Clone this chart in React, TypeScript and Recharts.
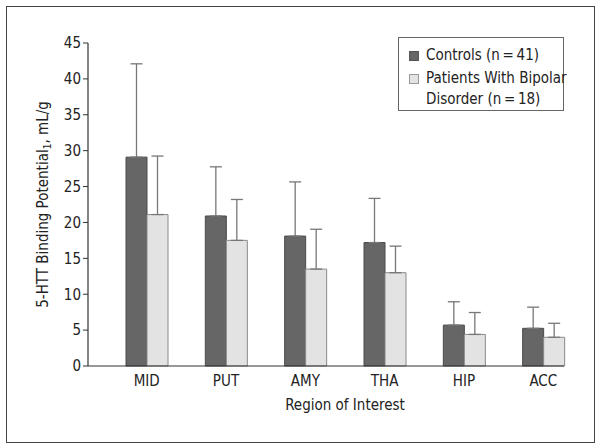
import React from "react";
import { BarChart, Bar, XAxis, YAxis, ErrorBar } from "recharts";

const regions = ["MID", "PUT", "AMY", "THA", "HIP", "ACC"];
const controlMeans = [29.1, 20.9, 18.1, 17.2, 5.7, 5.25];
const controlSD = [13.0, 6.85, 7.55, 6.15, 3.25, 2.95];
const bipolarMeans = [21.1, 17.5, 13.5, 13.0, 4.4, 4.0];
const bipolarSD = [8.15, 5.7, 5.55, 3.7, 3.05, 1.95];
const yTicks = [0, 5, 10, 15, 20, 25, 30, 35, 40, 45];

const FONT = "'Liberation Sans Narrow', 'DejaVu Sans Condensed', Arial, sans-serif";
const FS = 15;
const DARK = "#666666";
const LIGHT = "#e3e3e3";

const data = regions.map((r, i) => ({
  region: r,
  controls: controlMeans[i],
  controlsErr: [0, controlSD[i]],
  bipolar: bipolarMeans[i],
  bipolarErr: [0, bipolarSD[i]],
}));

function YLabel(props: any) {
  const vb = props.viewBox || {};
  const cy = vb.y + vb.height / 2;
  return (
    <text
      x={43}
      y={cy}
      transform={`rotate(-90 43 ${cy})`}
      textAnchor="middle"
      dominantBaseline="central"
      fontFamily={FONT}
      fontSize={FS}
      fill="#222"
    >
      5-HTT Binding Potential
      <tspan fontSize={10} dy={4}>1</tspan>
      <tspan dy={-4}>, mL/g</tspan>
    </text>
  );
}

function XLabel() {
  return (
    <text x={345} y={405} textAnchor="middle" dominantBaseline="central" fontFamily={FONT} fontSize={FS} fill="#222">
      Region of Interest
    </text>
  );
}

function LegendBox() {
  const sq = (c: string, b: string) => (
    <span
      style={{
        display: "inline-block",
        width: 8,
        height: 8,
        background: c,
        border: `1px solid ${b}`,
        marginRight: 7,
        marginTop: 6,
        flex: "none",
      }}
    />
  );
  return (
    <div
      style={{
        position: "absolute",
        left: 398,
        top: 37,
        width: 164,
        height: 72,
        border: "1px solid #666",
        fontFamily: FONT,
        fontSize: FS,
        lineHeight: "21px",
        color: "#222",
        background: "#fff",
      }}
    >
      <div style={{ display: "flex", alignItems: "flex-start", padding: "7px 0 0 10px", whiteSpace: "nowrap" }}>
        {sq(DARK, "#555")}
        <span>Controls (n{"\u2009"}={"\u2009"}41)</span>
      </div>
      <div style={{ display: "flex", alignItems: "flex-start", padding: "2px 0 0 10px", whiteSpace: "nowrap" }}>
        {sq(LIGHT, "#999")}
        <span>
          Patients With Bipolar
          <br />
          Disorder (n{"\u2009"}={"\u2009"}18)
        </span>
      </div>
    </div>
  );
}

export default function App() {
  return (
    <div style={{ position: "absolute", left: 0, top: 0, width: 600, height: 448, background: "#fff" }}>
      <div
        style={{
          position: "absolute",
          left: 6,
          top: 6,
          width: 587,
          height: 435,
          border: "1px solid #444",
        }}
      />
      <BarChart
        width={600}
        height={448}
        data={data}
        margin={{ top: 43, right: 36, bottom: 32, left: 0 }}
        barGap={0}
        barCategoryGap={0}
        style={{ position: "absolute", left: 0, top: 0 }}
      >
        <XAxis
          dataKey="region"
          padding={{ left: 19, right: -19 }}
          height={50}
          tickLine={false}
          tickMargin={3}
          axisLine={{ stroke: "#333", strokeWidth: 1.2 }}
          tick={{ fontFamily: FONT, fontSize: FS, fill: "#222" }}
          label={<XLabel />}
        />
        <YAxis
          width={88}
          domain={[0, 45]}
          ticks={yTicks}
          interval={0}
          tickSize={5}
          tickMargin={2}
          axisLine={{ stroke: "#333", strokeWidth: 1.2 }}
          tickLine={{ stroke: "#333" }}
          tick={{ fontFamily: FONT, fontSize: FS, fill: "#222" }}
          label={<YLabel />}
        />
        <Bar dataKey="controls" fill={DARK} stroke="#4a4a4a" barSize={21} isAnimationActive={false}>
          <ErrorBar dataKey="controlsErr" width={6} stroke="#777" strokeWidth={1.3} />
        </Bar>
        <Bar dataKey="bipolar" fill={LIGHT} stroke="#8a8a8a" barSize={21} isAnimationActive={false}>
          <ErrorBar dataKey="bipolarErr" width={6} stroke="#777" strokeWidth={1.3} />
        </Bar>
      </BarChart>
      <LegendBox />
    </div>
  );
}
